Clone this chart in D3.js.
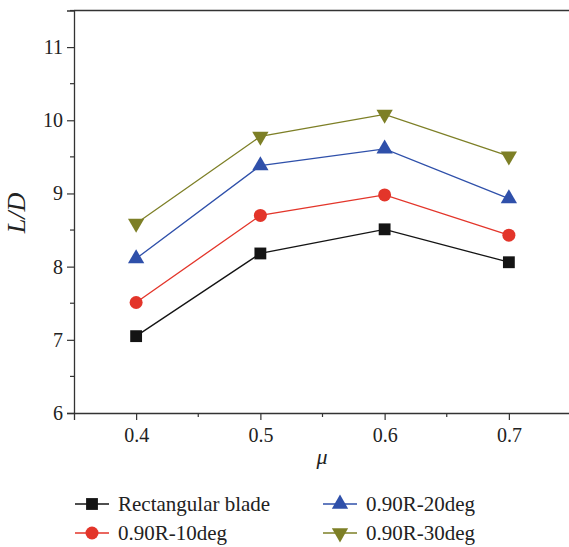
<!DOCTYPE html>
<html>
<head>
<meta charset="utf-8">
<script src="https://cdn.jsdelivr.net/npm/d3@7"></script>
<style>
  html, body { margin: 0; padding: 0; background: #fff; }
  svg { display: block; }
  text { font-family: "Liberation Serif", "DejaVu Serif", serif; fill: #222; }
</style>
</head>
<body>
<svg id="chart" width="569" height="547"></svg>
<script>
// Lift-to-drag ratio against advance ratio for four blade shapes
const mu = [0.4, 0.5, 0.6, 0.7];
const seriesNames = ["Rectangular blade", "0.90R-10deg", "0.90R-20deg", "0.90R-30deg"];
const rectangular = [7.05, 8.18, 8.51, 8.06];
const deg10 = [7.51, 8.70, 8.98, 8.43];
const deg20 = [8.11, 9.38, 9.61, 8.93];
const deg30 = [8.59, 9.78, 10.08, 9.51];
const xTicks = [0.4, 0.5, 0.6, 0.7];
const yTicks = [6, 7, 8, 9, 10, 11];

const colors = ["#141414", "#e3352a", "#2f50aa", "#7d7f26"];
const symbols = [d3.symbolSquare, d3.symbolCircle, d3.symbolTriangle, "down"];
const allSeries = [rectangular, deg10, deg20, deg30];

const svg = d3.select("#chart");
const plotLeft = 74, plotRight = 571, plotTop = 10.5, plotBottom = 413;

const x = d3.scaleLinear().domain([0.35, 0.75]).range([plotLeft, plotRight]);
const y = d3.scaleLinear().domain([6, 11.5]).range([plotBottom, plotTop]);

// top frame line
svg.append("line")
  .attr("x1", plotLeft).attr("x2", plotRight).attr("y1", plotTop).attr("y2", plotTop)
  .attr("stroke", "#333").attr("stroke-width", 1.3);

// minor ticks
const yMinor = d3.range(6.5, 11.6, 1);
const xMinor = [0.45, 0.55, 0.65];
svg.append("g").selectAll("line").data(yMinor).join("line")
  .attr("x1", plotLeft - 4).attr("x2", plotLeft).attr("y1", d => y(d)).attr("y2", d => y(d))
  .attr("stroke", "#333").attr("stroke-width", 1.2);
svg.append("g").selectAll("line").data(xMinor).join("line")
  .attr("x1", d => x(d)).attr("x2", d => x(d)).attr("y1", plotBottom).attr("y2", plotBottom + 4)
  .attr("stroke", "#333").attr("stroke-width", 1.2);

const yAxis = svg.append("g").attr("transform", `translate(${plotLeft},0)`)
  .call(d3.axisLeft(y).tickValues(yTicks).tickSize(7).tickPadding(4).tickFormat(d3.format("d")));
const xAxis = svg.append("g").attr("transform", `translate(0,${plotBottom})`)
  .call(d3.axisBottom(x).tickValues(xTicks).tickSize(7).tickPadding(8).tickFormat(d3.format(".1f")));

[yAxis, xAxis].forEach(g => {
  g.attr("font-size", 20).attr("font-family", "Liberation Serif, DejaVu Serif, serif");
  g.select(".domain").attr("stroke", "#333").attr("stroke-width", 1.3);
  g.selectAll(".tick line").attr("stroke", "#333").attr("stroke-width", 1.2);
  g.selectAll(".tick text").attr("fill", "#222");
});

// axis titles
svg.append("text").attr("transform", "translate(25,213) rotate(-90)")
  .attr("text-anchor", "middle").attr("font-size", 26).attr("font-style", "italic").text("L/D");
svg.append("text").attr("x", 322).attr("y", 464)
  .attr("text-anchor", "middle").attr("font-size", 22).attr("font-style", "italic").text("μ");

function symbolPath(i, size) {
  if (symbols[i] === "down") {
    return d3.symbol().type(d3.symbolTriangle).size(size)();
  }
  return d3.symbol().type(symbols[i]).size(size)();
}
const sizes = [140, 133, 115, 115];

const line = d3.line().x((d, i) => x(mu[i])).y(d => y(d));

allSeries.forEach((vals, s) => {
  svg.append("path").datum(vals).attr("d", line)
    .attr("fill", "none").attr("stroke", colors[s]).attr("stroke-width", 1.3);
  svg.append("g").selectAll("path").data(vals).join("path")
    .attr("d", symbolPath(s, sizes[s]))
    .attr("transform", (d, i) => `translate(${x(mu[i])},${y(d)})` + (symbols[s] === "down" ? " rotate(180)" : ""))
    .attr("fill", colors[s]);
});

// legend
const legendPos = [[75, 504], [75, 533], [323, 504], [323, 533]];
seriesNames.forEach((name, s) => {
  const [lx, ly] = legendPos[s];
  const g = svg.append("g");
  g.append("line").attr("x1", lx).attr("x2", lx + 34).attr("y1", ly).attr("y2", ly)
    .attr("stroke", colors[s]).attr("stroke-width", 1.3);
  g.append("path").attr("d", symbolPath(s, sizes[s]))
    .attr("transform", `translate(${lx + 17},${ly})` + (symbols[s] === "down" ? " rotate(180)" : ""))
    .attr("fill", colors[s]);
  g.append("text").attr("x", lx + 43).attr("y", ly + 7).attr("font-size", 21).text(name);
});
</script>
</body>
</html>
